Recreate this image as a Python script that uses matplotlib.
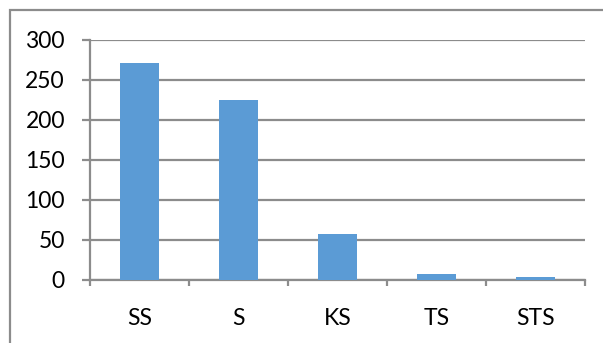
import matplotlib
matplotlib.use("Agg")
import matplotlib.pyplot as plt
from matplotlib.patches import Rectangle
import numpy as np

categories = ["SS", "S", "KS", "TS", "STS"]
values = [271, 225, 57, 7, 4]
y_ticks = [0, 50, 100, 150, 200, 250, 300]

plt.rcParams["font.family"] = ["Lato", "DejaVu Sans"]

W, H = 603, 343
fig = plt.figure(figsize=(W / 100, H / 100), dpi=100)

# chart-area frame (runs off the right and bottom edges)
fig.patches.append(Rectangle((10 / W, -0.1), 1.2, (H - 10) / H + 0.1,
                             transform=fig.transFigure, fill=False,
                             edgecolor="#8c8c8c", linewidth=1.6))

ax = fig.add_axes([90 / W, (H - 280) / H, (585 - 90) / W, (280 - 40) / H])
x = np.arange(len(categories))
ax.bar(x, values, width=0.4, color="#5b9bd5", zorder=3)

ax.set_xlim(-0.5, len(categories) - 0.5)
ax.set_ylim(0, 300)
ax.set_yticks(y_ticks)
ax.yaxis.grid(True, color="#8c8c8c", linewidth=1.6, zorder=0)
ax.set_axisbelow(True)

# boundary ticks on x, labels centred on categories
ax.set_xticks(np.arange(-0.5, len(categories)), labels=[""] * (len(categories) + 1))
ax.set_xticks(x, labels=categories, minor=True)
ax.tick_params(axis="x", which="major", length=4, width=1.6, color="#8c8c8c", direction="out")
ax.tick_params(axis="x", which="minor", length=0, pad=20, labelsize=16.5)
ax.tick_params(axis="y", length=6, width=1.6, color="#8c8c8c", pad=12, labelsize=16.5)

for s in ["top", "right"]:
    ax.spines[s].set_visible(False)
for s in ["left", "bottom"]:
    ax.spines[s].set_color("#8c8c8c")
    ax.spines[s].set_linewidth(1.6)

fig.savefig("out.png", dpi=100)
